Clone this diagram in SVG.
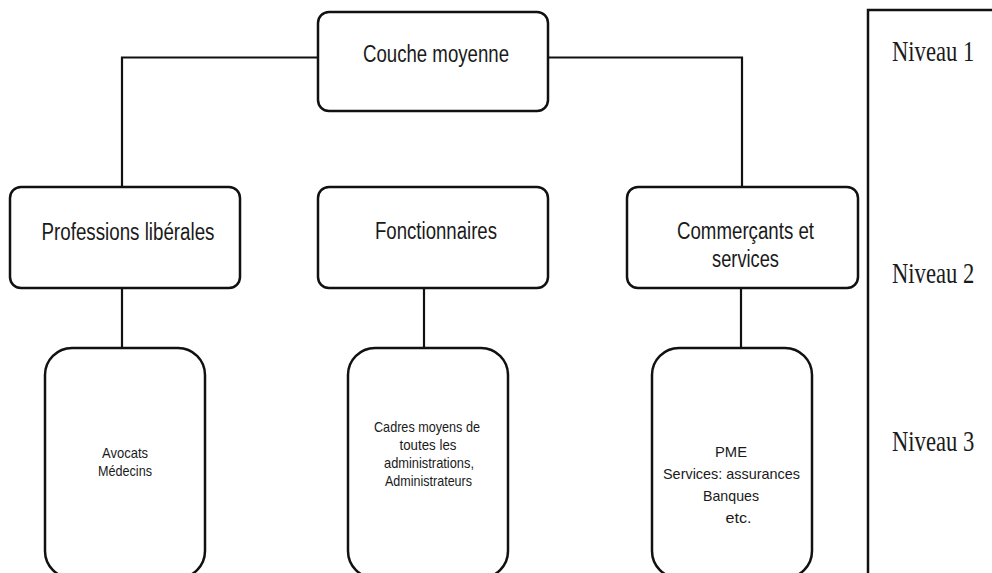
<svg xmlns="http://www.w3.org/2000/svg" width="992" height="573" viewBox="0 0 992 573">
<style>
.box{fill:#fff;stroke:#111;stroke-width:2.5}
.conn{fill:none;stroke:#111;stroke-width:2.2}
.t{font-family:"Liberation Sans",Arial,sans-serif;fill:#1a1a1a;text-anchor:middle}
.big{font-size:23px}
.small{font-size:15px}
.lvl{font-family:"Liberation Serif","Times New Roman",serif;font-size:29px;fill:#1a1a1a}
</style>
<rect width="992" height="573" fill="#fff"/>
<g id="connectors">
<path class="conn" d="M318 57.5 H122 V187"/>
<path class="conn" d="M548 57.5 H742 V187"/>
<path class="conn" d="M122 288 V348"/>
<path class="conn" d="M424 288 V348"/>
<path class="conn" d="M741 288 V348"/>
</g>
<g id="n-couche">
<rect class="box" x="318" y="12" width="230" height="99" rx="11"/>
<text class="t big" x="436" y="62" textLength="146" lengthAdjust="spacingAndGlyphs">Couche moyenne</text>
</g>
<g id="n-professions">
<rect class="box" x="10" y="187" width="230" height="101" rx="11"/>
<text class="t big" x="128" y="240" textLength="173" lengthAdjust="spacingAndGlyphs">Professions libérales</text>
</g>
<g id="n-fonctionnaires">
<rect class="box" x="318" y="187" width="230" height="101" rx="11"/>
<text class="t big" x="436" y="239" textLength="122" lengthAdjust="spacingAndGlyphs">Fonctionnaires</text>
</g>
<g id="n-commercants">
<rect class="box" x="627" y="187" width="231" height="101" rx="11"/>
<text class="t big" x="745.5" y="239" textLength="137" lengthAdjust="spacingAndGlyphs">Commerçants et</text>
<text class="t big" x="745.5" y="267" textLength="67" lengthAdjust="spacingAndGlyphs">services</text>
</g>
<g id="n-avocats">
<rect class="box" x="45" y="348" width="160" height="230" rx="27"/>
<text class="t small" x="125" y="458" textLength="46" lengthAdjust="spacingAndGlyphs">Avocats</text>
<text class="t small" x="125" y="476" textLength="54" lengthAdjust="spacingAndGlyphs">Médecins</text>
</g>
<g id="n-cadres">
<rect class="box" x="348" y="348" width="160" height="230" rx="27"/>
<text class="t small" x="427" y="432" textLength="106" lengthAdjust="spacingAndGlyphs">Cadres moyens de</text>
<text class="t small" x="428" y="450" textLength="57" lengthAdjust="spacingAndGlyphs">toutes les</text>
<text class="t small" x="429" y="468" textLength="90" lengthAdjust="spacingAndGlyphs">administrations,</text>
<text class="t small" x="428.5" y="486" textLength="87" lengthAdjust="spacingAndGlyphs">Administrateurs</text>
</g>
<g id="n-pme">
<rect class="box" x="652" y="348" width="160" height="230" rx="27"/>
<text class="t small" x="731" y="457" textLength="32" lengthAdjust="spacingAndGlyphs">PME</text>
<text class="t small" x="731.5" y="479" textLength="137" lengthAdjust="spacingAndGlyphs">Services: assurances</text>
<text class="t small" x="731" y="501" textLength="56" lengthAdjust="spacingAndGlyphs">Banques</text>
<text class="t small" x="738.5" y="523" textLength="26" lengthAdjust="spacingAndGlyphs">etc.</text>
</g>
<g id="levels">
<path d="M868 573 V10 H992" fill="none" stroke="#111" stroke-width="2.5"/>
<text class="lvl" transform="translate(892 61) scale(0.78 1)">Niveau 1</text>
<text class="lvl" transform="translate(892 283) scale(0.78 1)">Niveau 2</text>
<text class="lvl" transform="translate(892 451) scale(0.78 1)">Niveau 3</text>
</g>
</svg>
